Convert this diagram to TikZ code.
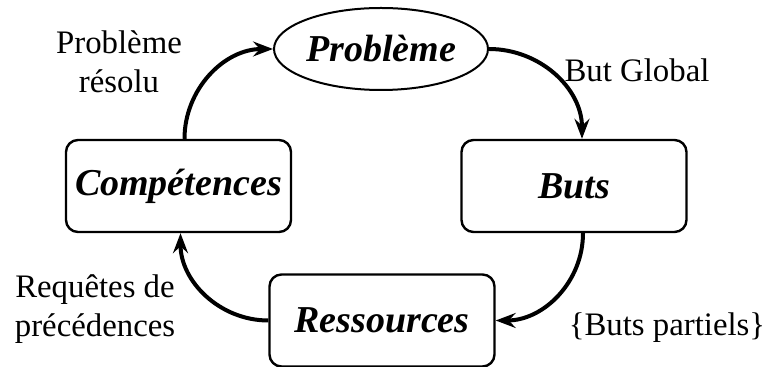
\documentclass[tikz,border=0pt]{standalone}
\usepackage{fontspec}
\setmainfont{Liberation Serif}
\usetikzlibrary{shapes.geometric,arrows.meta}

\tikzset{
  stage/.style={draw, line width=1.2pt, rounded corners=6pt,
    minimum width=112.5pt, minimum height=46pt, inner sep=0pt,
    font=\fontsize{19}{22}\selectfont\bfseries\itshape},
  goal/.style={draw, ellipse, line width=1pt,
    minimum width=107pt, minimum height=41pt, inner sep=0pt,
    font=\fontsize{19}{22}\selectfont\bfseries\itshape},
  flow/.style={line width=2pt, -{Stealth[length=10pt, width=7.5pt, inset=3.5pt]}},
  note/.style={align=center, inner sep=0pt,
    font=\fontsize{16.4}{19.5}\selectfont}
}

\begin{document}
\begin{tikzpicture}[x=0.5pt, y=-0.5pt]
  \useasboundingbox (0,0) rectangle (766,367);

  % cycle stages
  \node[goal]  (prob) at (381,49)    {Problème};
  \node[stage] (buts) at (574,186)   {Buts};
  \node[stage] (res)  at (382,320.5) {Ressources};
  \node[stage] (comp) at (178.5,186) {Compétences};

  % connectors between stages
  \draw[flow] (prob.east) to[out=0, in=90] ([xshift=4pt]buts.north);
  \draw[flow] ([xshift=4.5pt]buts.south) to[out=-90, in=0] (res.east);
  \draw[flow] (res.west) to[out=180, in=-90] ([xshift=1pt]comp.south);
  \draw[flow] ([xshift=3pt]comp.north) to[out=90, in=180] (prob.west);

  % edge labels
  \node[note] (lres)  at (119,62)  {Problème\\résolu};
  \node[note] (lglob) at (637,70)  {But Global};
  \node[note] (lpart) at (667,328) {\{Buts partiels\}};
  \node[note] (lreq)  at (95,309)  {Requêtes de\\précédences};
\end{tikzpicture}
\end{document}
